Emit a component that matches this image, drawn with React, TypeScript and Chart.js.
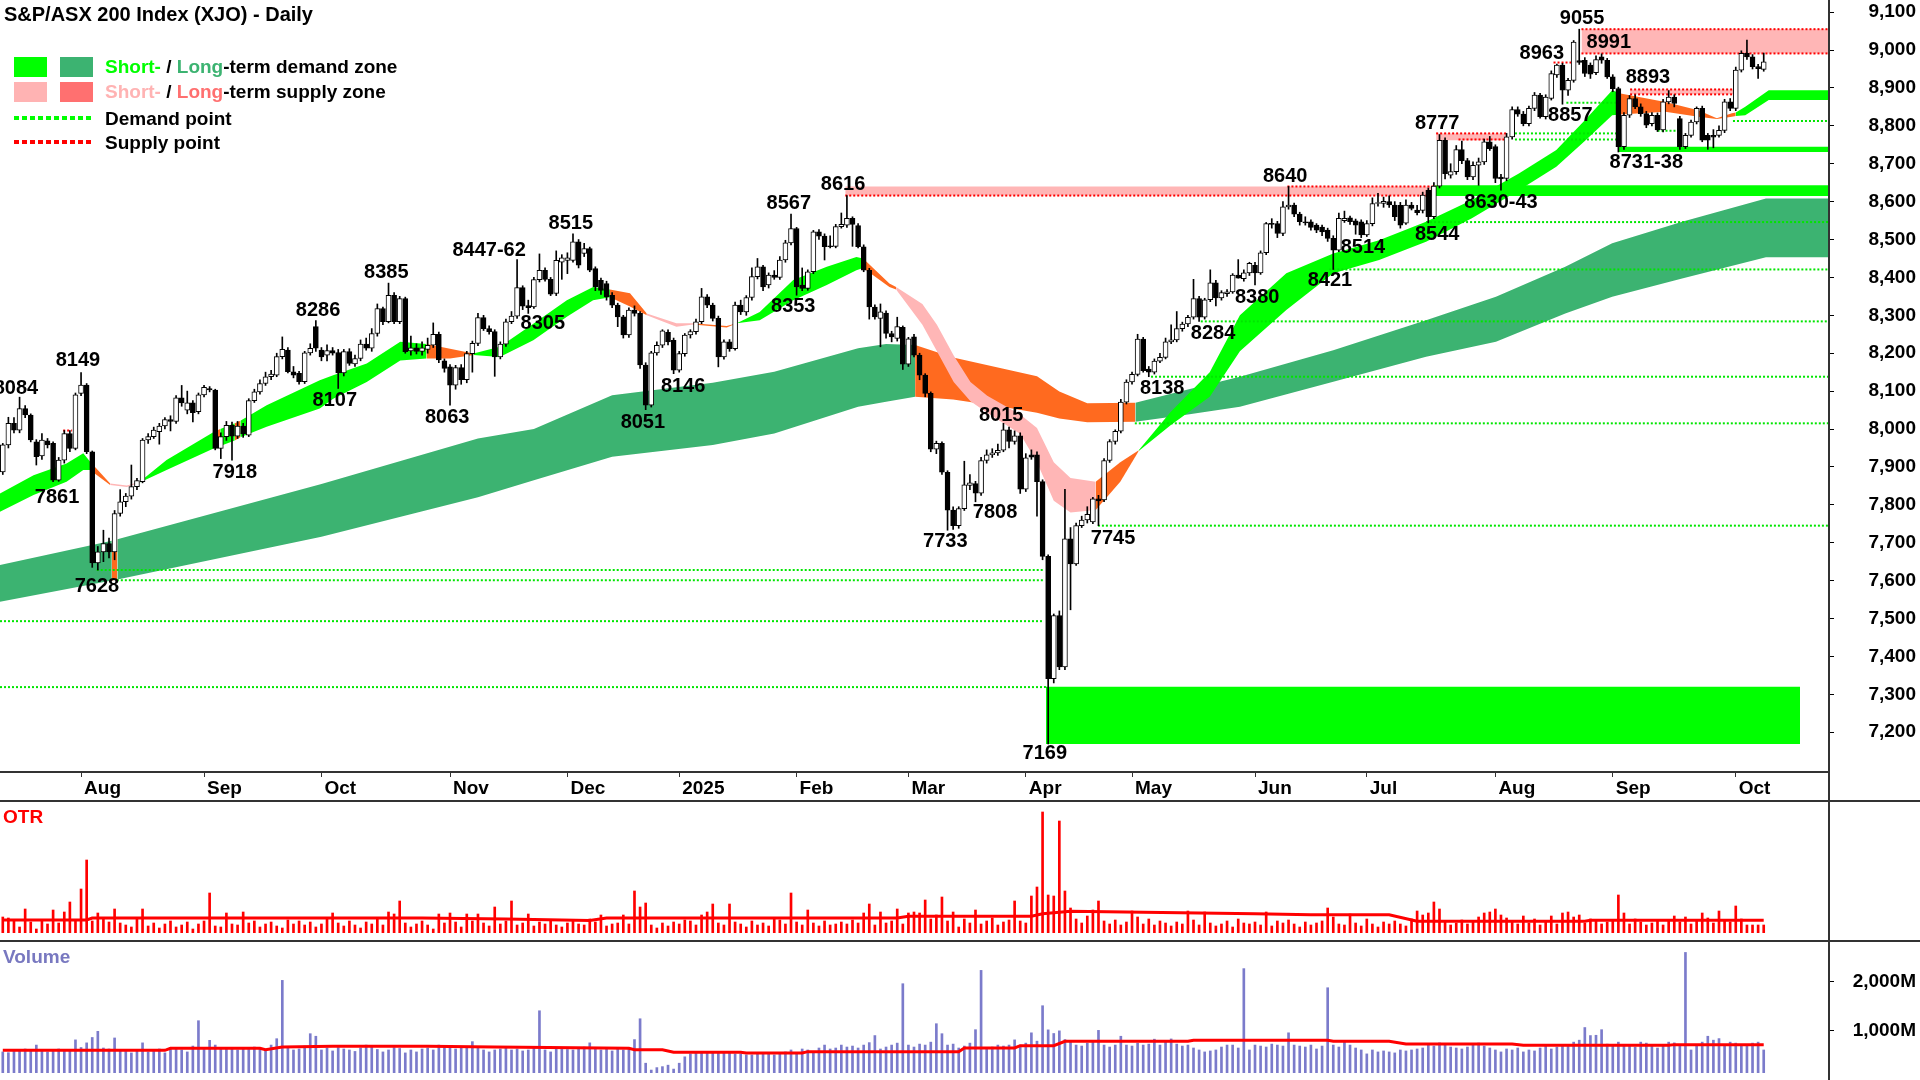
import React, { useEffect, useRef } from "react";
import { Chart, registerables } from "chart.js";

Chart.register(...registerables);

const FONT = '"Liberation Sans", Arial, Helvetica, sans-serif';
Chart.defaults.font.family = FONT;

// ---------- axis / categories ----------
const SLOT_COUNT = 327; // 316 trading days (12 Jul 2024 .. 8 Oct 2025) + empty future slots
const monthTickIndex = [14, 36, 57, 80, 101, 121, 142, 162, 183, 202, 224, 244, 267, 288, 310];
const monthTickLabel = ["Aug", "Sep", "Oct", "Nov", "Dec", "2025", "Feb", "Mar", "Apr", "May", "Jun", "Jul", "Aug", "Sep", "Oct"];
const priceTicks = [7200, 7300, 7400, 7500, 7600, 7700, 7800, 7900, 8000, 8100, 8200, 8300, 8400, 8500, 8600, 8700, 8800, 8900, 9000, 9100];
const volumeTicks = [1000, 2000];

// ---------- daily OHLC ----------
const opens = [
  7887,7958,8015,7997,8054,8037,7966,7929,7969,7962,
  7865,7918,7988,7949,8094,8116,7940,7647,7676,7698,
  7676,7777,7808,7823,7848,7861,7971,7980,7993,8008,
  8025,8020,8082,8050,8069,8046,8090,8107,8103,7949,
  7980,8010,7981,8008,7984,8075,8098,8120,8138,8142,
  8191,8208,8151,8147,8125,8201,8270,8208,8195,8207,
  8202,8148,8204,8172,8186,8224,8213,8252,8318,8283,
  8353,8283,8344,8206,8214,8205,8210,8221,8250,8180,
  8164,8116,8162,8130,8199,8226,8294,8265,8257,8190,
  8224,8283,8298,8373,8326,8322,8394,8419,8395,8358,
  8440,8445,8445,8494,8463,8476,8423,8392,8384,8353,
  8327,8296,8248,8314,8305,8169,8063,8201,8221,8255,
  8234,8155,8199,8248,8257,8283,8349,8327,8292,8190,
  8230,8212,8327,8309,8347,8402,8428,8380,8406,8400,
  8446,8491,8529,8380,8371,8415,8520,8509,8483,8482,
  8534,8538,8556,8537,8481,8419,8322,8292,8306,8252,
  8239,8268,8171,8243,8195,8142,8094,7947,7962,7886,
  7786,7745,7790,7851,7856,7831,7917,7932,7937,7944,
  7998,7967,7982,7841,7932,7932,7861,7664,7341,7508,
  7372,7710,7644,7745,7760,7755,7816,7813,7917,7967,
  7994,8071,8124,8144,8237,8158,8150,8179,8189,8230,
  8235,8265,8277,8295,8344,8295,8341,8386,8346,8357,
  8362,8406,8397,8412,8432,8412,8465,8542,8542,8516,
  8586,8591,8567,8546,8547,8538,8533,8525,8503,8472,
  8550,8557,8549,8547,8512,8542,8595,8595,8600,8591,
  8590,8543,8591,8578,8577,8630,8560,8641,8762,8670,
  8679,8737,8708,8665,8696,8705,8758,8745,8665,8661,
  8771,8843,8831,8806,8846,8881,8824,8872,8934,8960,
  8894,8920,8972,8973,8960,8940,8982,8973,8929,8898,
  8745,8828,8872,8850,8832,8806,8828,8789,8863,8876,
  8819,8745,8775,8810,8846,8775,8775,8775,8788,8863,
  8846,8947,8991,8982,8956,8949,
];
const highs = [
  7962,8031,8030,8084,8062,8040,7972,7988,7975,7966,
  7925,7996,7996,8095,8149,8120,7942,7690,7733,7712,
  7785,7840,7830,7905,7870,7975,7988,8005,8015,8030,
  8035,8088,8115,8100,8075,8095,8115,8112,8105,7990,
  8020,8018,8020,8015,8080,8105,8130,8150,8155,8200,
  8243,8215,8165,8152,8205,8225,8286,8215,8222,8215,
  8210,8210,8212,8195,8235,8240,8265,8330,8322,8385,
  8360,8350,8348,8245,8225,8230,8240,8280,8256,8185,
  8170,8168,8170,8205,8232,8305,8300,8272,8262,8230,
  8290,8310,8447,8378,8340,8400,8462,8425,8400,8470,
  8460,8465,8515,8500,8490,8480,8428,8398,8390,8360,
  8332,8300,8320,8325,8310,8175,8205,8230,8262,8262,
  8240,8205,8252,8262,8290,8371,8355,8332,8298,8235,
  8236,8335,8340,8352,8425,8450,8432,8412,8418,8455,
  8498,8567,8532,8425,8420,8524,8526,8515,8510,8540,
  8570,8616,8560,8542,8486,8424,8328,8330,8312,8258,
  8295,8272,8242,8250,8200,8146,8098,7968,7966,7890,
  7795,7795,7915,7880,7862,7925,7945,7948,7960,8015,
  8005,7995,7990,7935,7945,7940,7866,7668,7512,7520,
  7841,7740,7752,7770,7795,7820,7825,7922,7972,7998,
  8078,8130,8150,8250,8242,8165,8185,8200,8240,8275,
  8310,8282,8300,8395,8350,8345,8420,8392,8365,8368,
  8410,8447,8420,8440,8440,8470,8545,8555,8548,8600,
  8640,8596,8572,8560,8552,8542,8538,8530,8510,8570,
  8575,8562,8554,8552,8550,8610,8622,8612,8615,8600,
  8598,8605,8598,8590,8625,8636,8650,8777,8768,8700,
  8748,8760,8714,8705,8715,8765,8772,8750,8672,8780,
  8850,8850,8838,8852,8888,8886,8882,8945,8963,8965,
  8925,9025,9055,8980,8966,8985,8990,8978,8935,8902,
  8835,8880,8882,8858,8838,8835,8834,8870,8893,8882,
  8825,8780,8815,8850,8852,8780,8790,8800,8870,8872,
  8955,8998,9026,8988,8962,8992,
];
const lows = [
  7880,7950,7990,7990,8030,7966,7905,7920,7950,7861,
  7862,7910,7940,7945,8088,7935,7635,7628,7650,7660,
  7655,7770,7795,7815,7840,7858,7962,7975,7960,8000,
  7995,8015,8060,8040,8019,8040,8085,8098,7945,7922,
  7970,7918,7975,7978,7980,8070,8092,8115,8130,8138,
  8185,8148,8135,8118,8120,8195,8205,8180,8180,8195,
  8107,8140,8168,8165,8180,8208,8205,8245,8275,8280,
  8278,8278,8200,8195,8198,8195,8200,8215,8175,8150,
  8063,8105,8118,8122,8150,8220,8260,8250,8139,8185,
  8218,8278,8292,8315,8305,8318,8388,8390,8352,8352,
  8395,8410,8440,8425,8455,8415,8365,8355,8340,8320,
  8270,8240,8242,8298,8160,8051,8058,8195,8215,8222,
  8146,8150,8192,8240,8250,8278,8320,8285,8164,8184,
  8205,8208,8302,8300,8340,8396,8365,8372,8395,8395,
  8440,8486,8353,8365,8366,8410,8500,8446,8478,8478,
  8530,8532,8482,8478,8415,8290,8290,8217,8240,8230,
  8232,8157,8165,8190,8130,8085,7940,7935,7880,7733,
  7735,7738,7785,7840,7808,7825,7910,7925,7930,7940,
  7950,7960,7830,7835,7920,7770,7655,7169,7330,7365,
  7365,7523,7640,7740,7752,7750,7745,7808,7912,7960,
  7990,8066,8118,8140,8150,8138,8145,8175,8185,8225,
  8230,8258,8270,8290,8284,8290,8336,8325,8340,8350,
  8358,8398,8390,8405,8380,8408,8460,8530,8505,8510,
  8580,8560,8538,8538,8525,8518,8510,8495,8421,8468,
  8545,8540,8514,8505,8508,8536,8588,8585,8585,8550,
  8530,8540,8578,8565,8570,8544,8555,8636,8660,8662,
  8672,8700,8658,8658,8643,8698,8735,8650,8630,8655,
  8765,8825,8800,8800,8840,8820,8818,8868,8928,8857,
  8880,8915,8962,8930,8925,8935,8965,8925,8890,8731,
  8738,8822,8845,8825,8795,8800,8785,8784,8858,8850,
  8738,8740,8770,8805,8758,8738,8742,8770,8782,8840,
  8840,8942,8975,8950,8925,8944,
];
const closes = [
  7958,8015,7997,8054,8037,7971,7927,7971,7958,7865,
  7918,7988,7949,8090,8116,7940,7647,7676,7698,7676,
  7777,7808,7823,7848,7864,7971,7980,7997,8008,8025,
  8020,8082,8069,8069,8043,8090,8110,8103,7949,7980,
  8010,7981,8008,7987,8075,8098,8120,8138,8145,8191,
  8210,8151,8142,8125,8201,8213,8213,8190,8207,8200,
  8148,8204,8173,8186,8224,8213,8252,8318,8283,8353,
  8283,8344,8204,8214,8205,8214,8221,8250,8182,8160,
  8116,8162,8130,8199,8226,8294,8265,8257,8190,8224,
  8283,8298,8373,8324,8320,8394,8419,8395,8356,8445,
  8452,8452,8494,8432,8476,8419,8375,8366,8349,8327,
  8296,8248,8314,8305,8169,8063,8201,8221,8259,8230,
  8155,8199,8248,8257,8283,8349,8327,8292,8190,8230,
  8212,8327,8309,8347,8402,8428,8375,8406,8400,8446,
  8491,8529,8375,8371,8415,8520,8509,8481,8481,8534,
  8540,8556,8540,8481,8419,8322,8296,8309,8252,8243,
  8270,8171,8238,8195,8142,8094,7947,7962,7886,7786,
  7745,7790,7853,7858,7831,7917,7932,7937,7944,7998,
  7967,7982,7841,7924,7926,7861,7664,7341,7508,7372,
  7710,7644,7745,7760,7775,7816,7810,7917,7967,7994,
  8071,8124,8144,8237,8154,8150,8179,8189,8230,8235,
  8265,8277,8295,8344,8295,8341,8386,8346,8360,8362,
  8406,8398,8412,8437,8412,8465,8542,8540,8516,8586,
  8591,8567,8547,8544,8532,8525,8520,8503,8472,8556,
  8556,8547,8538,8512,8542,8595,8597,8601,8591,8560,
  8538,8591,8582,8571,8617,8560,8641,8762,8674,8679,
  8737,8708,8665,8696,8705,8758,8740,8661,8660,8771,
  8843,8831,8806,8846,8881,8824,8876,8938,8960,8894,
  8920,9021,8967,8938,8936,8975,8973,8929,8898,8745,
  8828,8872,8850,8832,8802,8828,8789,8863,8876,8859,
  8745,8775,8810,8846,8762,8762,8770,8788,8863,8846,
  8947,8991,8982,8956,8951,8969,
];

// ---------- OTR (panel units) and volume (millions) ----------
const otr = [
  16,15,13,6,24,11,4,12,9,23,
  10,21,31,12,44,73,12,20,15,11,
  24,10,8,6,14,24,7,10,5,9,
  12,6,8,11,4,9,12,40,7,6,
  20,9,8,21,10,12,6,9,11,7,
  5,13,9,12,8,11,6,9,14,20,
  10,7,12,8,5,11,9,14,8,21,
  19,32,10,6,9,12,8,4,19,10,
  20,11,6,19,12,19,10,7,26,9,
  12,32,8,10,19,7,11,9,13,8,
  6,10,12,9,8,14,11,18,7,9,
  10,18,9,42,26,30,8,5,10,7,
  11,9,13,12,8,18,21,29,10,8,
  29,11,9,6,12,8,10,7,14,13,
  9,40,11,8,23,10,7,12,8,9,
  11,9,13,10,20,29,8,21,10,12,
  24,9,20,21,20,33,14,18,36,12,
  21,6,14,10,23,9,12,15,8,11,
  13,32,12,10,37,46,121,38,37,112,
  42,25,14,10,17,23,32,12,9,13,
  8,11,22,16,9,14,8,12,10,7,
  11,9,22,13,8,21,10,7,9,12,
  6,14,10,9,11,8,21,7,12,10,
  13,9,6,11,8,10,12,25,16,9,
  8,19,10,7,14,9,6,11,9,12,
  9,7,14,22,18,20,31,24,11,8,
  10,13,9,12,16,20,21,24,18,15,
  11,9,17,10,14,8,12,17,9,20,
  21,16,18,10,14,12,9,11,13,38,
  20,9,14,11,8,10,13,8,12,17,
  11,16,9,12,20,15,10,22,13,11,
  27,14,8,8,8,8,
];
const otrAvgIdx = [0, 15, 16, 75, 90, 105, 108, 160, 162, 184, 186, 191, 204, 224, 234, 248, 253, 283, 284, 315];
const otrAvg = [13, 13, 15, 15, 14, 12.5, 15, 15, 16.7, 16.7, 19.3, 21.7, 20.7, 19.3, 18.3, 18.3, 11.7, 11.7, 12.7, 12.7];

const volume = [
  560,545,600,590,620,580,700,610,560,590,
  620,580,610,806,650,745,855,980,640,620,
  845,600,570,540,610,745,560,600,620,540,
  650,620,600,560,680,1197,610,797,700,650,
  620,640,600,640,610,660,640,610,700,830,
  2020,640,600,620,680,932,880,600,640,580,
  650,620,600,570,640,700,690,610,560,600,
  650,630,540,600,560,620,640,600,700,650,
  690,620,650,660,770,640,600,560,600,620,
  640,600,620,580,600,640,1400,600,560,640,
  640,610,600,620,660,745,640,600,620,580,
  630,600,640,812,1237,330,190,240,260,290,
  210,330,460,520,560,540,560,560,540,560,
  540,520,520,500,500,520,540,520,500,540,
  560,600,520,620,600,560,640,700,620,640,
  700,660,680,640,700,750,894,620,660,700,
  740,1952,700,660,720,700,760,1136,932,700,
  720,640,680,740,1014,2224,640,660,700,680,
  700,806,700,740,950,780,1503,1010,936,990,
  812,780,700,680,740,760,1000,700,660,700,
  880,700,680,740,700,720,820,700,760,825,
  720,680,700,640,600,560,580,600,660,700,
  700,640,2260,600,700,680,660,720,700,680,
  950,700,680,660,700,620,680,1870,700,660,
  760,700,640,600,520,600,560,580,560,540,
  600,580,600,620,640,700,680,745,700,660,
  640,620,660,700,742,680,640,600,560,620,
  600,640,560,600,580,640,700,620,660,680,
  700,760,800,1058,894,900,1014,720,700,760,
  680,700,660,760,740,700,640,700,760,745,
  680,2590,600,700,760,880,800,832,700,760,
  740,680,700,740,760,600,
];
const volAvgIdx = [0, 29, 30, 46, 47, 50, 59, 76, 88, 112, 113, 118, 120, 132, 133, 143, 144, 171, 172, 181, 182, 188, 190, 212, 213, 237, 238, 248, 251, 270, 272, 298, 299, 315];
const volAvg = [593, 593, 634, 634, 606, 661, 674, 674, 661, 634, 606, 606, 552, 552, 538, 538, 566, 566, 640, 640, 688, 688, 777, 777, 797, 797, 777, 777, 723, 723, 695, 695, 709, 709];

// ---------- short-term band (knots) ----------
const stIdx = [-0.5,5.5,11.4,14.4,15.6,19.2,22.2,24.5,29.3,37.8,38.9,41.5,42.5,47.2,56.7,59.1,65.1,71.1,75.8,80.0,84.2,88.9,94.9,100.9,105.6,108.6,112.2,115.2,120.5,123.5,129.5,131.3,135.4,141.4,147.4,152.7,153.9,158.6,159.8,164.5,167.1,170.1,173.1,176.1,182.0,185.0,188.0,191.0,195.5,199.9,203.2,208.9,215.9,221.3,229.6,238.0,246.2,254.6,262.8,271.2,277.9,283.0,287.9,289.4,297.4,303.3,306.6,309.3,310.0,311.7,315.9,326.5];
const stTop = [7830,7878,7909,7936,7914,7856,7851,7861,7918,7993,8000,8015,8022,8063,8129,8142,8173,8230,8224,8212,8199,8217,8278,8340,8375,8368,8358,8305,8279,8279,8272,8279,8309,8393,8428,8454,8450,8384,8375,8330,8275,8194,8124,8088,8038,8003,7912,7871,7861,7912,7944,8045,8150,8300,8411,8463,8498,8547,8604,8674,8736,8815,8894,8885,8863,8841,8820,8833,8835,8850,8894,8894];
const stBottom = [7782,7826,7861,7892,7892,7852,7847,7859,7892,7949,7955,7970,7978,8006,8054,8080,8124,8181,8186,8186,8195,8190,8234,8296,8340,8348,8323,8300,8270,8276,8268,8279,8287,8340,8380,8419,8425,8375,8368,8275,8205,8124,8073,8043,7987,7912,7811,7780,7786,7861,7942,8010,8085,8205,8314,8411,8446,8494,8556,8630,8692,8760,8828,8830,8837,8824,8818,8824,8826,8828,8868,8868];
const stState = "GGGGOPPGGOGOGGGGGGOOGGGGGOOPPOOGGGGGOOPPPPPPPPPPOOGGGGGGGGGGGGGOOOOOGGGG".split("");

// ---------- long-term band (knots) ----------
const ltIdx = [-0.5,19.5,20.5,57,85,95,109,127,138,153,158,163.2,170,179,185,189,194,202.6,212,221.3,238,254.6,267.1,279.5,287.9,300.4,315.4,326.5];
const ltTop = [7641,7705,7709,7855,7975,8000,8089,8122,8151,8213,8224,8222,8189,8159,8139,8099,8068,8069,8104,8138,8208,8287,8349,8428,8490,8547,8608,8608];
const ltBottom = [7544,7600,7603,7716,7820,7865,7927,7958,7988,8059,8072,8085,8078,8058,8043,8028,8018,8019,8038,8059,8125,8191,8230,8305,8349,8397,8453,8453];
const ltState = "DODDDDDDDDDOOOOOODDDDDDDDDDD".split("");

// ---------- zones ----------
const zoneFrom = [150.7, 256.4, 282.4, 291.1, 186.6, 256.2, 289.0];
const zoneTo = [256.4, 269.1, 326.5, 310.2, 321.5, 326.5, 326.5];
const zoneLow = [8616, 8762, 8991, 8883, 7169, 8615, 8731];
const zoneHigh = [8640, 8780, 9055, 8896, 7320, 8643, 8745];
const zoneKind = ["S", "S", "S", "S", "D", "D", "D"];

// ---------- supply / demand points ----------
const levelFrom = [10.8, 150.7, 229.8, 256.4, 260.4, 277.4, 282.4, 282.4, 291.1, 291.1,
  16.8, 20.4, -0.5, -0.5, 195.9, 202.5, 205.4, 214.3, 237.3, 254.6, 270.5, 270.5, 279.7, 296, 309.5];
const levelTo = [12.4, 256.4, 256.4, 269.1, 269.1, 280.9, 326.5, 326.5, 310.2, 310.2,
  186.1, 186.1, 186.1, 186.6, 326.5, 326.5, 326.5, 326.5, 326.5, 326.5, 289, 289, 289, 300.2, 326.5];
const levelValue = [7996, 8616, 8640, 8780, 8764, 8967, 9055, 8991, 8896, 8883,
  7628, 7601, 7493, 7319, 7745, 8015, 8138, 8284, 8421, 8546, 8780, 8764, 8861, 8787, 8813];
const levelKind = ["S","S","S","S","S","S","S","S","S","S",
  "D","D","D","D","D","D","D","D","D","D","D","D","D","D","D"];

// ---------- pivot labels ----------
const pivotText = ["8084","8149","7861","7628","7918","8286","8107","8385","8063","8447-62","8305","8515","8051","8146","8567","8353","8616","8015","7733","7808","7169","7745","8138","8284","8380","8640","8421","8514","8544","8777","8630-43","8963","8857","9055","8991","8893","8731-38"];
const pivotIdx = [2.36,13.45,9.7,16.85,41.5,56.4,59.4,68.6,79.5,87.0,96.6,101.6,114.5,121.7,140.6,141.4,150.3,178.6,168.6,177.5,186.4,198.6,207.4,216.5,224.4,229.4,237.4,243.3,256.6,256.6,268.0,275.3,280.4,282.5,287.3,294.3,294.0];
const pivotPrice = [8108,8182,7820,7585,7886,8314,8076,8414,8031,8472,8279,8543,8018,8111,8596,8322,8644,8037,7702,7781,7145,7712,8108,8253,8348,8667,8393,8480,8514,8807,8599,8992,8828,9084,9021,8928,8704];

// ---------- styling ----------
const C_ST = { G: "#00FF00", O: "#FF6A1F", P: "#FFB6B6" };
const C_LT = { D: "#3CB371", O: "#FF6A1F" };
const C_ZONE = { S: "#FFB6B6", D: "#00FF00" };
const C_LEVEL = { S: "#FF0000", D: "#00E600" };
const AX_FONT = { family: FONT, size: 19, weight: "bold" as const };
const PLOT_RIGHT_PAD = 4;
const AXIS_W = 88;

const xy = (xs: number[], ys: number[]) => xs.map((x, k) => ({ x, y: ys[k] }));
const dayIdx = opens.map((_, i) => i);

function bandSets(idx: number[], top: number[], bottom: number[], state: string[], colors: any, order: number) {
  return [
    {
      type: "line", data: xy(idx, top), order, fill: "+1",
      backgroundColor: colors[state[0]], borderColor: "transparent", borderWidth: 0,
      pointRadius: 0, tension: 0,
      segment: { backgroundColor: (c: any) => colors[state[c.p0DataIndex]] },
    },
    {
      type: "line", data: xy(idx, bottom), order, fill: false,
      borderColor: "transparent", borderWidth: 0, pointRadius: 0, tension: 0,
    },
  ];
}

function frameLines(drawTop: boolean) {
  return {
    id: "frameLines",
    afterDraw(chart: any) {
      const { ctx, width, height, chartArea } = chart;
      ctx.save();
      ctx.strokeStyle = "#333";
      ctx.lineWidth = 2;
      ctx.beginPath();
      ctx.moveTo(chartArea.right + 1, 0);
      ctx.lineTo(chartArea.right + 1, height);
      if (drawTop) {
        ctx.moveTo(0, 1);
        ctx.lineTo(width, 1);
      }
      ctx.stroke();
      ctx.restore();
    },
  };
}

const pivotPlugin = {
  id: "pivotLabels",
  afterDatasetsDraw(chart: any) {
    const { ctx, scales } = chart;
    ctx.save();
    ctx.font = `bold 20px ${FONT}`;
    ctx.fillStyle = "#000";
    ctx.textAlign = "center";
    ctx.textBaseline = "middle";
    pivotText.forEach((t, k) => {
      ctx.fillText(t, scales.x.getPixelForValue(pivotIdx[k]), scales.y.getPixelForValue(pivotPrice[k]));
    });
    ctx.restore();
  },
};

const fitRightAxis = (a: any) => {
  a.width = AXIS_W;
  a.paddingTop = 0;
  a.paddingBottom = 0;
};

const baseOpts = {
  responsive: false,
  animation: false as const,
  devicePixelRatio: 1,
  events: [] as any[],
  plugins: { legend: { display: false }, tooltip: { enabled: false } },
};

function priceConfig(): any {
  const datasets: any[] = [];
  datasets.push(...bandSets(ltIdx, ltTop, ltBottom, ltState, C_LT, 100));
  datasets.push(...bandSets(stIdx, stTop, stBottom, stState, C_ST, 90));
  zoneFrom.forEach((f, k) => {
    datasets.push({
      type: "line", order: 80,
      data: [{ x: f, y: zoneHigh[k] }, { x: zoneTo[k], y: zoneHigh[k] }],
      fill: { value: zoneLow[k] }, backgroundColor: C_ZONE[zoneKind[k]],
      borderColor: "transparent", borderWidth: 0, pointRadius: 0,
    });
  });
  levelFrom.forEach((f, k) => {
    datasets.push({
      type: "line", order: 70,
      data: [{ x: f, y: levelValue[k] }, { x: levelTo[k], y: levelValue[k] }],
      fill: false, borderColor: C_LEVEL[levelKind[k]], borderWidth: 2, borderDash: [2, 2],
      pointRadius: 0,
    });
  });
  datasets.push({
    type: "bar", order: 20, grouped: false, barThickness: 1,
    data: dayIdx.map((i) => ({ x: i, y: [lows[i], highs[i]] })),
    backgroundColor: "#000", borderWidth: 0,
  });
  datasets.push({
    type: "bar", order: 10, grouped: false, barThickness: 5, minBarLength: 1,
    data: dayIdx.map((i) => ({ x: i, y: [opens[i], closes[i]] })),
    backgroundColor: (c: any) => (closes[c.dataIndex] >= opens[c.dataIndex] ? "#FFFFFF" : "#000000"),
    borderColor: "#000", borderWidth: 1, borderSkipped: false,
  });

  return {
    type: "bar",
    data: { datasets },
    options: {
      ...baseOpts,
      layout: { padding: { left: 0, right: PLOT_RIGHT_PAD, top: 0, bottom: 0 } },
      scales: {
        x: {
          type: "linear", min: -0.5, max: SLOT_COUNT - 0.5, offset: false,
          afterBuildTicks: (a: any) => { a.ticks = monthTickIndex.map((v) => ({ value: v })); },
          afterFit: (a: any) => { a.height = 28; a.paddingLeft = 0; a.paddingRight = 0; },
          grid: { drawOnChartArea: false, drawTicks: true, tickLength: 5, color: "#333", offset: false },
          border: { display: true, color: "#333", width: 2 },
          ticks: {
            autoSkip: false, maxRotation: 0, minRotation: 0, align: "start", labelOffset: 3, padding: 0,
            color: "#000", font: AX_FONT,
            callback: (v: any) => { const k = monthTickIndex.indexOf(Number(v)); return k >= 0 ? monthTickLabel[k] : ""; },
          },
        },
        y: {
          type: "linear", position: "right", min: 7095, max: 9132,
          afterBuildTicks: (a: any) => { a.ticks = priceTicks.map((v) => ({ value: v })); },
          afterFit: fitRightAxis,
          grid: { drawOnChartArea: false, drawTicks: true, tickLength: 6, color: "#000" },
          border: { display: false },
          ticks: {
            crossAlign: "far", color: "#000", font: AX_FONT,
            callback: (v: any) => Number(v).toLocaleString("en-US"),
          },
        },
      },
    },
    plugins: [pivotPlugin, frameLines(false)],
  };
}

function otrConfig(): any {
  return {
    type: "bar",
    data: {
      datasets: [
        {
          type: "line", order: 1, data: xy(otrAvgIdx, otrAvg),
          borderColor: "#FF0000", borderWidth: 3, pointRadius: 0, fill: false, tension: 0,
        },
        {
          type: "bar", order: 2, barThickness: 2, grouped: false,
          data: dayIdx.map((i) => ({ x: i, y: otr[i] })),
          backgroundColor: "#FF0000", borderWidth: 0,
        },
      ],
    },
    options: {
      ...baseOpts,
      layout: { padding: { left: 0, right: PLOT_RIGHT_PAD, top: 0, bottom: 7 } },
      scales: {
        x: { type: "linear", min: -0.5, max: SLOT_COUNT - 0.5, offset: false, display: false },
        y: {
          type: "linear", position: "right", min: 0, max: 133,
          afterFit: fitRightAxis,
          grid: { display: false }, border: { display: false }, ticks: { display: false },
        },
      },
    },
    plugins: [frameLines(true)],
  };
}

function volumeConfig(): any {
  return {
    type: "bar",
    data: {
      datasets: [
        {
          type: "line", order: 1, data: xy(volAvgIdx, volAvg),
          borderColor: "#FF0000", borderWidth: 3, pointRadius: 0, fill: false, tension: 0,
        },
        {
          type: "bar", order: 2, barThickness: 2, grouped: false,
          data: dayIdx.map((i) => ({ x: i, y: volume[i] })),
          backgroundColor: "#7B7BCB", borderWidth: 0,
        },
      ],
    },
    options: {
      ...baseOpts,
      layout: { padding: { left: 0, right: PLOT_RIGHT_PAD, top: 0, bottom: 7 } },
      scales: {
        x: { type: "linear", min: -0.5, max: SLOT_COUNT - 0.5, offset: false, display: false },
        y: {
          type: "linear", position: "right", min: 130, max: 2844,
          afterBuildTicks: (a: any) => { a.ticks = volumeTicks.map((v) => ({ value: v })); },
          afterFit: fitRightAxis,
          grid: { drawOnChartArea: false, drawTicks: true, tickLength: 6, color: "#000" },
          border: { display: false },
          ticks: {
            crossAlign: "far", color: "#000", font: AX_FONT,
            callback: (v: any) => Number(v).toLocaleString("en-US") + "M",
          },
        },
      },
    },
    plugins: [frameLines(true)],
  };
}

const txt: React.CSSProperties = {
  position: "absolute", fontFamily: FONT, fontWeight: "bold", whiteSpace: "nowrap", lineHeight: "22px",
};

function Swatch({ left, top, color }: { left: number; top: number; color: string }) {
  return <div style={{ position: "absolute", left, top, width: 33, height: 20, background: color }} />;
}

function Dots({ top, color }: { top: number; color: string }) {
  return (
    <div
      style={{
        position: "absolute", left: 14, top, width: 78, height: 4,
        background: `repeating-linear-gradient(90deg, ${color} 0px, ${color} 5px, transparent 5px, transparent 8px)`,
      }}
    />
  );
}

export default function App() {
  const priceRef = useRef<HTMLCanvasElement>(null);
  const otrRef = useRef<HTMLCanvasElement>(null);
  const volRef = useRef<HTMLCanvasElement>(null);

  useEffect(() => {
    const charts = [
      new Chart(priceRef.current as any, priceConfig()),
      new Chart(otrRef.current as any, otrConfig()),
      new Chart(volRef.current as any, volumeConfig()),
    ];
    return () => charts.forEach((c) => c.destroy());
  }, []);

  return (
    <div style={{ position: "absolute", left: 0, top: 0, width: 1920, height: 1080, background: "#fff", overflow: "hidden" }}>
      <canvas ref={priceRef} width={1920} height={800} style={{ position: "absolute", left: 0, top: 0, width: 1920, height: 800 }} />
      <canvas ref={otrRef} width={1920} height={140} style={{ position: "absolute", left: 0, top: 800, width: 1920, height: 140 }} />
      <canvas ref={volRef} width={1920} height={140} style={{ position: "absolute", left: 0, top: 940, width: 1920, height: 140 }} />

      <div style={{ ...txt, left: 4, top: 3, fontSize: 20, color: "#000" }}>S&amp;P/ASX 200 Index (XJO) - Daily</div>

      <Swatch left={14} top={57} color="#00FF00" />
      <Swatch left={60} top={57} color="#3CB371" />
      <div style={{ ...txt, left: 105, top: 56, fontSize: 19, color: "#000" }}>
        <span style={{ color: "#00FF00" }}>Short-</span> / <span style={{ color: "#3CB371" }}>Long</span>-term demand zone
      </div>
      <Swatch left={14} top={82} color="#FFB3B3" />
      <Swatch left={60} top={82} color="#FF7070" />
      <div style={{ ...txt, left: 105, top: 81, fontSize: 19, color: "#000" }}>
        <span style={{ color: "#FFB3B3" }}>Short-</span> / <span style={{ color: "#FF7070" }}>Long</span>-term supply zone
      </div>
      <Dots top={116} color="#00FF00" />
      <div style={{ ...txt, left: 105, top: 108, fontSize: 19, color: "#000" }}>Demand point</div>
      <Dots top={140} color="#FF0000" />
      <div style={{ ...txt, left: 105, top: 132, fontSize: 19, color: "#000" }}>Supply point</div>

      <div style={{ ...txt, left: 3, top: 806, fontSize: 19, color: "#FF0000" }}>OTR</div>
      <div style={{ ...txt, left: 3, top: 946, fontSize: 19, color: "#7878C0" }}>Volume</div>
    </div>
  );
}
